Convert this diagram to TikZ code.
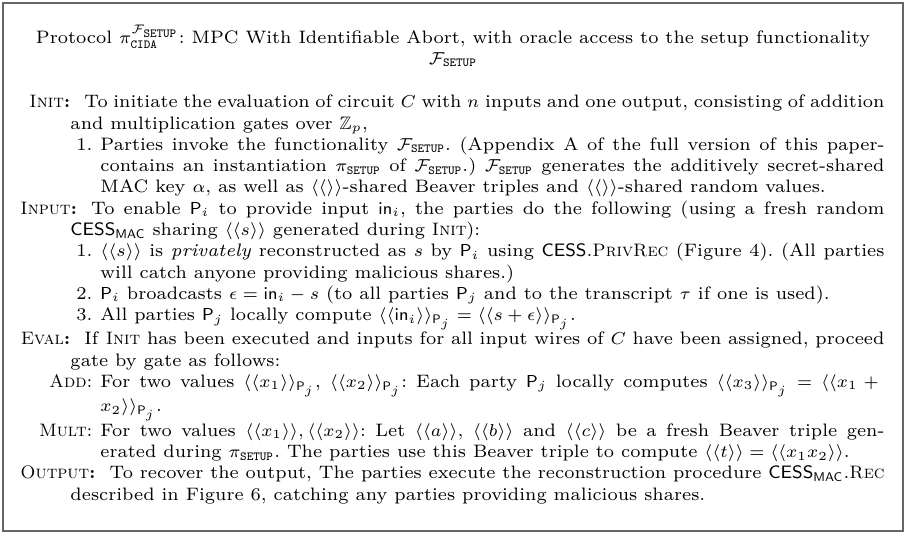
\documentclass[tikz,border=0pt]{standalone}
\usepackage{amsmath,amssymb}
\usepackage{tikz}

\newlength\pxu
\setlength\pxu{0.40486pt}

\newcommand{\Fsetup}{\mathcal{F}_{\mathtt{SETUP}}}
\newcommand{\pisetup}{\pi_{\mathtt{SETUP}}}
\newcommand{\shr}[1]{\langle\langle #1\rangle\rangle}
\newcommand{\Pa}[1]{\mathsf{P}_{#1}}
\newcommand{\inp}{\mathsf{in}}
\newcommand{\cess}{\textsf{CESS}}
\newcommand{\phase}[1]{\textsc{#1}\textbf{:}}
\newcommand{\protofont}{\fontsize{7.3pt}{8.62pt}\selectfont\frenchspacing}

\newcounter{stepno}
\newenvironment{phases}{\list{}{%
    \setlength\leftmargin{58\pxu}\setlength\itemindent{14\pxu}%
    \setlength\labelsep{14\pxu}\setlength\labelwidth{50\pxu}%
    \setlength\itemsep{0pt}\setlength\parsep{0pt}%
    \setlength\topsep{0pt}\setlength\partopsep{0pt}}}{\endlist}
\newenvironment{steps}{\list{\arabic{stepno}.}{\usecounter{stepno}%
    \setlength\leftmargin{30\pxu}\setlength\itemindent{0pt}%
    \setlength\labelsep{8\pxu}\setlength\labelwidth{20\pxu}%
    \setlength\itemsep{0pt}\setlength\parsep{0pt}%
    \setlength\topsep{0pt}\setlength\partopsep{0pt}}}{\endlist}
\newenvironment{gates}{\list{}{%
    \setlength\leftmargin{30\pxu}\setlength\itemindent{0pt}%
    \setlength\labelsep{8\pxu}\setlength\labelwidth{60\pxu}%
    \setlength\itemsep{0pt}\setlength\parsep{0pt}%
    \setlength\topsep{0pt}\setlength\partopsep{0pt}}}{\endlist}

\begin{document}
\begin{tikzpicture}[x=\pxu, y=-\pxu]

    \tikzset{%
        frame/.style={draw=black!60, line width=0.8pt},
        title/.style={inner sep=0pt, align=center, font=\protofont},
        body/.style={inner sep=0pt, text width=872\pxu, align=justify, font=\protofont, anchor=north west}
    }

    \useasboundingbox (0, 0) rectangle (906, 535);
    \draw [frame] (3, 3) rectangle (903, 531);

    \node (title) [title, anchor=north] at (453, 25) {Protocol $\pi^{\Fsetup}_{\mathtt{CIDA}}$: MPC With Identifiable Abort, with oracle access to the setup functionality\\ $\Fsetup$};

    \node (body) [body] at (12, 86) {%
        \begin{phases}
            \item[\phase{Init}] To initiate the evaluation of circuit $C$ with $n$ inputs and one output, consisting of addition\linebreak
            and multiplication gates over $\mathbb{Z}_p$,
            \begin{steps}
                \item Parties invoke the functionality $\Fsetup$. (Appendix A of the full version of this paper-\linebreak
                contains an instantiation $\pisetup$ of $\Fsetup$.) $\Fsetup$ generates the additively secret-shared\linebreak
                MAC key $\alpha$, as well as $\shr{}$-shared Beaver triples and $\shr{}$-shared random values.
            \end{steps}
            \item[\phase{Input}] To enable $\Pa{i}$ to provide input $\inp_i$, the parties do the following (using a fresh random\linebreak
            $\cess_{\textsf{MAC}}$ sharing $\shr{s}$ generated during \textsc{Init}):
            \begin{steps}
                \item $\shr{s}$ is \emph{privately} reconstructed as $s$ by $\Pa{i}$ using \cess.\textsc{PrivRec} (Figure 4). (All parties\linebreak
                will catch anyone providing malicious shares.)
                \item $\Pa{i}$ broadcasts $\epsilon = \inp_i - s$ (to all parties $\Pa{j}$ and to the transcript $\tau$ if one is used).
                \item All parties $\Pa{j}$ locally compute $\shr{\inp_i}_{\Pa{j}} = \shr{s+\epsilon}_{\Pa{j}}$.
            \end{steps}
            \item[\phase{Eval}] If \textsc{Init} has been executed and inputs for all input wires of $C$ have been assigned, proceed\linebreak
            gate by gate as follows:
            \begin{gates}
                \item[\textsc{Add}:] For two values $\shr{x_1}_{\Pa{j}}$, $\shr{x_2}_{\Pa{j}}$: Each party $\Pa{j}$ locally computes $\shr{x_3}_{\Pa{j}} = \langle\langle x_1 +{}$\linebreak
                $x_2\rangle\rangle_{\Pa{j}}$.
                \item[\textsc{Mult}:] For two values $\shr{x_1}, \shr{x_2}$: Let $\shr{a}$, $\shr{b}$ and $\shr{c}$ be a fresh Beaver triple gen-\linebreak
                erated during $\pisetup$. The parties use this Beaver triple to compute $\shr{t} = \shr{x_1x_2}$.
            \end{gates}
            \item[\phase{Output}] To recover the output, The parties execute the reconstruction procedure $\cess_{\textsf{MAC}}$.\textsc{Rec}\linebreak
            described in Figure 6, catching any parties providing malicious shares.
        \end{phases}
    };

\end{tikzpicture}
\end{document}
